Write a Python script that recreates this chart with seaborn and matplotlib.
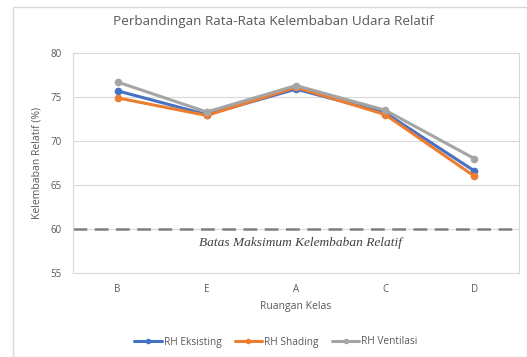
import matplotlib
matplotlib.use("Agg")
import matplotlib.pyplot as plt
import seaborn as sns
import pandas as pd
from matplotlib.patches import Rectangle

rooms = ["B", "E", "A", "C", "D"]
rh_eksisting = [75.7, 73.0, 75.9, 73.2, 66.6]
rh_shading = [74.9, 72.9, 76.1, 73.0, 66.0]
rh_ventilasi = [76.7, 73.3, 76.3, 73.5, 68.0]
series_names = ["RH Eksisting", "RH Shading", "RH Ventilasi"]
series_colors = ["#4472C4", "#ED7D31", "#A5A5A5"]
batas_maks = 60

df = pd.DataFrame({
    "Ruangan": rooms * 3,
    "RH": rh_eksisting + rh_shading + rh_ventilasi,
    "Seri": [s for s in series_names for _ in rooms],
})

sns.set_theme(style="white")
plt.rcParams["font.family"] = ["Open Sans", "DejaVu Sans"]
text_color = "#595959"

fig = plt.figure(figsize=(5.27, 3.57), dpi=100)
ax = fig.add_axes([73 / 527, 1 - 273 / 357, (519 - 73) / 527, (273 - 53) / 357])

# chart frame
fig.patches.append(Rectangle((13 / 527, 0.0), 1 - 13 / 527, 1 - 7 / 357,
                             transform=fig.transFigure, fill=False,
                             edgecolor="#d9d9d9", linewidth=1.0))

ax.axhline(batas_maks, color="#7f7f7f", linewidth=1.8, dashes=(5.5, 3), zorder=1)

sns.lineplot(data=df, x="Ruangan", y="RH", hue="Seri", palette=series_colors,
             hue_order=series_names, marker="o", markersize=5.5,
             markeredgewidth=0, linewidth=2.2, sort=False, ax=ax, zorder=3,
             legend=False)

ax.set_ylim(55, 80)
ax.set_yticks([55, 60, 65, 70, 75, 80])
ax.set_xlim(-0.5, len(rooms) - 0.5)
ax.yaxis.grid(True, color="#d9d9d9", linewidth=0.8)
ax.set_axisbelow(True)
for sp in ax.spines.values():
    sp.set_color("#d9d9d9")
    sp.set_linewidth(0.8)
ax.tick_params(axis="both", length=0, labelsize=7, colors=text_color, pad=8)

ax.set_xlabel("Ruangan Kelas", fontsize=7.5, color=text_color, labelpad=4)
ax.set_ylabel("Kelembaban Relatif (%)", fontsize=7.5, color=text_color, labelpad=6)

ax.text(2.05, 58.4, "Batas Maksimum Kelembaban Relatif", ha="center", va="center",
        fontsize=9.6, style="italic", color="#404040",
        family=["Liberation Serif", "DejaVu Serif"])

fig.text(273 / 527, 1 - 22 / 357, "Perbandingan Rata-Rata Kelembaban Udara Relatif",
         ha="center", va="center", fontsize=9.7, color=text_color)

handles = [plt.Line2D([], [], color=c, marker="o", markersize=4, markeredgewidth=0,
                      linewidth=2.2) for c in series_colors]
fig.legend(handles, series_names, loc="center", bbox_to_anchor=(276 / 527, 1 - 342 / 357),
           ncol=3, frameon=False, fontsize=7.3, handlelength=2.7, handletextpad=0.2,
           columnspacing=1.3, labelcolor=text_color)

fig.savefig("out.png", dpi=100)
